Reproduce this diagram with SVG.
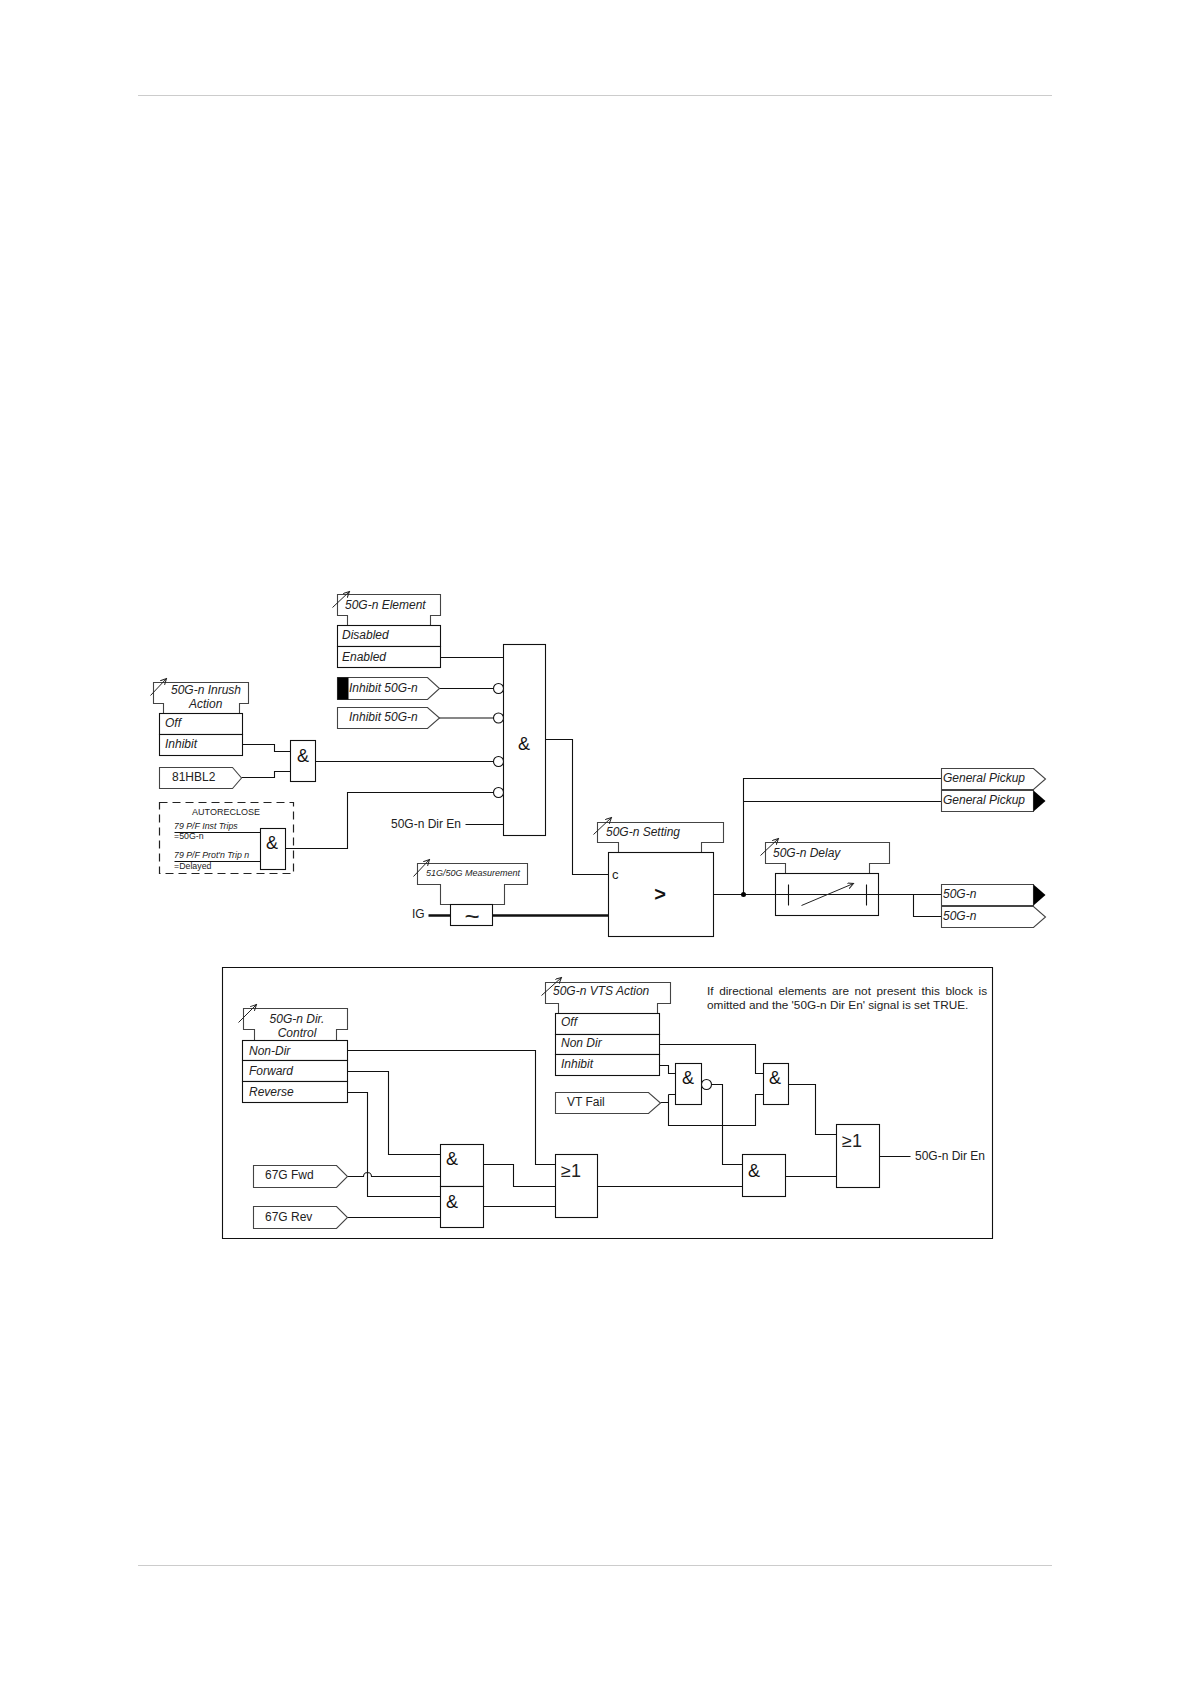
<svg xmlns="http://www.w3.org/2000/svg" width="1190" height="1684" viewBox="0 0 1190 1684">
<defs>
<marker id="arr" markerWidth="7" markerHeight="7" refX="6" refY="3" orient="auto" markerUnits="userSpaceOnUse"><path d="M0 0L6 3L0 6" fill="none" stroke="#222" stroke-width="1"/></marker>
<style>
rect,.s{fill:#fff;stroke:#111;stroke-width:1.1}
.t{fill:#fff;stroke:#444;stroke-width:1.1}
.c{fill:none;stroke:#111;stroke-width:1.1}
.a{fill:none;stroke:#222;stroke-width:1;marker-end:url(#arr)}
text{font-family:"Liberation Sans",Arial,sans-serif;font-size:12px;fill:#222;transform:translate(-.5px,-1px)}
.i{font-style:italic}
.g{font-size:18px;text-anchor:middle;fill:#111}
.o{font-size:18px;fill:#222}
.m{text-anchor:middle}
.k{fill:#000;stroke:none}
</style>
</defs>
<g id="page-rules"><path d="M138 95.500H1052M138 1565.500H1052" fill="none" stroke="#ccc" stroke-width="1"/></g>
<g id="diagram" transform="translate(.5 .5)">
<g id="frame"><path d="M222 967H992V1238H222Z" fill="none" stroke="#111" stroke-width="1.100"/></g>

<g id="connectors" class="c">
<path class="c" d="M440 657H503M439 688H493M438 717.500H493M315 761H493M285 848H347V792H493M465 824H503"/>
<path class="c" d="M242 744H274V751H290M241 777H274V771H290M174 832H260M174 861H260"/>
<path class="c" d="M545 739H572V874H608"/>
<path class="c" d="M712 894H775M878 894H941M913 894V916H941M743 894V778H941M743 801H941"/>
<path class="c" style="stroke-width:2.600" d="M428 915H450M492 915H608"/>
<path class="c" d="M347 1050H535V1164H555M347 1071H388V1154H440M347 1092H367V1196H440M347 1176H363a4 4 0 0 1 8 0H440M347 1217H440"/>
<path class="c" d="M483 1164H513V1186H555M483 1206H555M597 1186H742M785 1176H836M879 1156H910"/>
<path class="c" d="M659 1044H755V1073H763M659 1065H668V1073H675M660 1102H668M668 1094V1125H755V1094H763M668 1094H675"/>
<path class="c" d="M711 1084H722V1164H742M788 1084H815V1134H836"/>
</g>

<g id="element-50g">
<path class="t" d="M347 625V615H337V594H440V615H430V625"/>
<rect x="337" y="625" width="103" height="21"/><rect x="337" y="646" width="103" height="21"/>
<path class="a" d="M332 607L349 591"/>
<text class="i" x="345" y="609">50G-n Element</text>
<text class="i" x="342" y="639">Disabled</text><text class="i" x="342" y="661">Enabled</text>
</g>
<g id="inhibit-black">
<path class="t" d="M337 677H427L439 688L427 699H337Z"/><rect class="k" x="337" y="677" width="11" height="22"/>
<text class="i" x="349" y="692">Inhibit 50G-n</text>
</g>
<g id="inhibit-white">
<path class="t" d="M337 707H427L439 717.500L427 728H337Z"/>
<text class="i" x="349" y="721">Inhibit 50G-n</text>
</g>
<g id="and-main">
<rect x="503" y="644" width="42" height="191"/>
<circle class="s" cx="498" cy="688" r="5"/><circle class="s" cx="498" cy="717.500" r="5"/><circle class="s" cx="498" cy="761" r="5"/><circle class="s" cx="498" cy="792" r="5"/>
<text class="g" x="524" y="750">&amp;</text>
</g>
<g id="inrush">
<path class="t" d="M163 713V703H153V682H248V703H239V713"/>
<rect x="159" y="713" width="83" height="21"/><rect x="159" y="734" width="83" height="21"/>
<path class="a" d="M150 695L166 678"/>
<text class="i" x="171" y="694">50G-n Inrush</text><text class="i" x="189" y="708">Action</text>
<text class="i" x="165" y="727">Off</text><text class="i" x="165" y="748">Inhibit</text>
</g>
<g id="hbl"><path class="t" d="M159 767H232L241 777.500L232 788H159Z"/><text x="172" y="781">81HBL2</text></g>
<g id="and-inrush"><rect x="290" y="740" width="25" height="41"/><text class="g" x="303" y="762">&amp;</text></g>
<g id="autoreclose">
<path d="M159 802H293V873H159Z" fill="none" stroke="#222" stroke-width="1.200" stroke-dasharray="8 5"/>
<text class="m" x="226" y="815" style="font-size:9px">AUTORECLOSE</text>
<text class="i" x="174" y="829" style="font-size:8.800px">79 P/F Inst Trips</text>
<text x="174" y="839" style="font-size:8.800px">=50G-n</text>
<text class="i" x="174" y="858" style="font-size:8.800px">79 P/F Prot'n Trip n</text>
<text x="174" y="869" style="font-size:8.800px">=Delayed</text>
<rect x="260" y="828" width="25" height="41"/><text class="g" x="272" y="849">&amp;</text>
</g>
<g id="dir-en-in"><text x="391" y="828">50G-n Dir En</text></g>
<g id="measurement">
<path class="t" d="M450 904H440V884H417V863H527V884H504V904H492"/>
<rect x="450" y="904" width="42" height="21"/>
<path class="a" d="M413 876L429 859"/>
<text class="i" x="426" y="876" style="font-size:9px">51G/50G Measurement</text>
<text class="m" x="472" y="925" style="font-size:26px">~</text>
<text x="412" y="918">IG</text>
</g>
<g id="comparator">
<path class="t" d="M618 852V842H597V822H723V842H701V852"/>
<rect x="608" y="852" width="105" height="84"/>
<path class="a" d="M593 834L611 817"/>
<text class="i" x="606" y="836">50G-n Setting</text>
<text x="612" y="879" style="font-size:13px">c</text>
<text class="m" x="660" y="901" style="font-size:20px;font-weight:bold;fill:#111">&gt;</text>
</g>
<g id="delay">
<path class="t" d="M785 873V863H765V842H889V863H869V873"/>
<rect x="775" y="873" width="103" height="42"/>
<path class="c" d="M775 894H878M788 884V905M866 884V905"/>
<path class="a" d="M801 905L853 883"/>
<path class="a" d="M760 855L778 838"/>
<text class="i" x="773" y="857">50G-n Delay</text>
</g>
<g id="dot"><circle class="k" cx="743" cy="894" r="2.500"/></g>
<g id="pickup-white"><path class="t" d="M941 768H1033L1045 778.500L1033 789H941Z"/><text class="i" x="943" y="782">General Pickup</text></g>
<g id="pickup-black"><path class="t" d="M941 790H1033V811H941Z"/><path class="k" d="M1033 790L1045 800.500L1033 811Z"/><text class="i" x="943" y="804">General Pickup</text></g>
<g id="out-black"><path class="t" d="M941 884H1033V905H941Z"/><path class="k" d="M1033 884L1045 894.500L1033 905Z"/><text class="i" x="943" y="898">50G-n</text></g>
<g id="out-white"><path class="t" d="M941 906H1033L1045 916.500L1033 927H941Z"/><text class="i" x="943" y="920">50G-n</text></g>

<g id="dir-control">
<path class="t" d="M254 1040V1029H243V1008H347V1029H336V1040"/>
<rect x="242" y="1040" width="105" height="20"/><rect x="242" y="1060" width="105" height="21"/><rect x="242" y="1081" width="105" height="21"/>
<path class="a" d="M238 1022L256 1004"/>
<text class="i m" x="297" y="1023">50G-n Dir.</text><text class="i m" x="297" y="1037">Control</text>
<text class="i" x="249" y="1055">Non-Dir</text><text class="i" x="249" y="1075">Forward</text><text class="i" x="249" y="1096">Reverse</text>
</g>
<g id="fwd"><path class="t" d="M253 1165H336L347 1176L336 1187H253Z"/><text x="265" y="1179">67G Fwd</text></g>
<g id="rev"><path class="t" d="M253 1206H336L347 1217L336 1228H253Z"/><text x="265" y="1221">67G Rev</text></g>
<g id="and-fwd"><rect x="440" y="1144" width="43" height="42"/><text class="g" x="452" y="1165">&amp;</text></g>
<g id="and-rev"><rect x="440" y="1186" width="43" height="41"/><text class="g" x="452" y="1208">&amp;</text></g>
<g id="or-1"><rect x="555" y="1154" width="42" height="63"/><text class="o" x="561" y="1177">≥1</text></g>
<g id="vts">
<path class="t" d="M558 1013V1003H545V982H670V1003H657V1013"/>
<rect x="555" y="1013" width="104" height="21"/><rect x="555" y="1034" width="104" height="20"/><rect x="555" y="1054" width="104" height="21"/>
<path class="a" d="M541 995L561 977"/>
<text class="i" x="553" y="995">50G-n VTS Action</text>
<text class="i" x="561" y="1026">Off</text><text class="i" x="561" y="1047">Non Dir</text><text class="i" x="561" y="1068">Inhibit</text>
</g>
<g id="vt-fail"><path class="t" d="M555 1092H648L660 1102.500L648 1113H555Z"/><text x="567" y="1106">VT Fail</text></g>
<g id="nand"><rect x="675" y="1063" width="26" height="41"/><circle class="s" cx="706" cy="1084" r="5"/><text class="g" x="688" y="1084">&amp;</text></g>
<g id="and-vts"><rect x="763" y="1063" width="25" height="41"/><text class="g" x="775" y="1084">&amp;</text></g>
<g id="and-3"><rect x="742" y="1154" width="43" height="42"/><text class="g" x="754" y="1177">&amp;</text></g>
<g id="or-2"><rect x="836" y="1124" width="43" height="63"/><text class="o" x="842" y="1147">≥1</text></g>
<g id="dir-en-out"><text x="915" y="1160">50G-n Dir En</text></g>
<g id="note">
<text x="707" y="995" style="font-size:11.800px;word-spacing:2.300px">If directional elements are not present this block is</text>
<text x="707" y="1009" style="font-size:11.800px">omitted and the '50G-n Dir En' signal is set TRUE.</text>
</g>
</g>
</svg>
